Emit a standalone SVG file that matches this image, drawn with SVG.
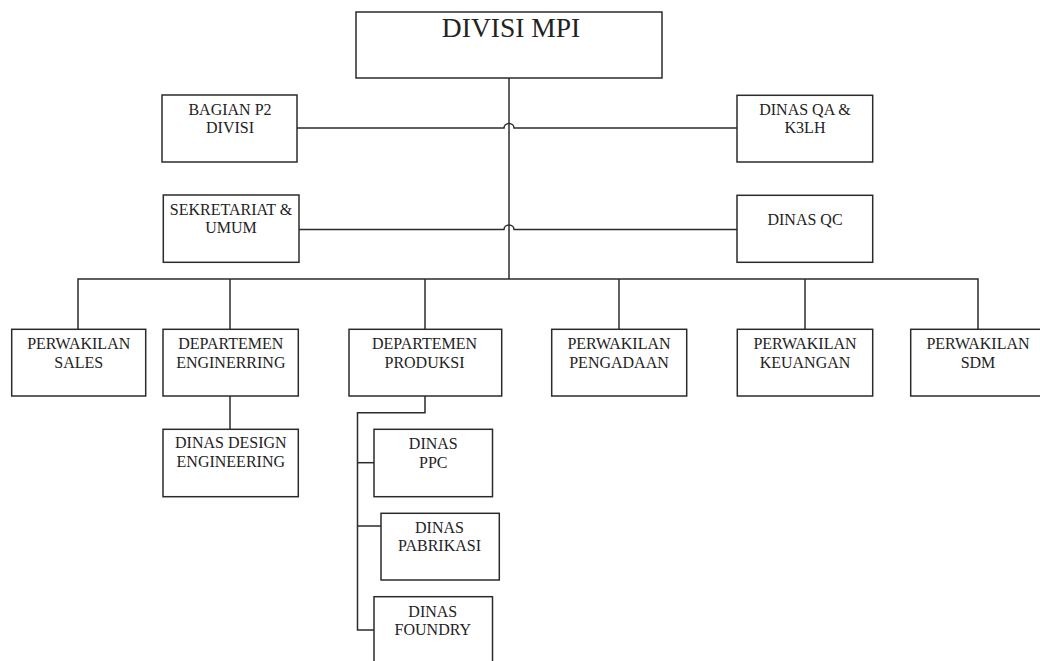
<svg xmlns="http://www.w3.org/2000/svg" width="1040" height="661" viewBox="0 0 1040 661">
<defs>
<marker id="none" markerWidth="1" markerHeight="1"/>
</defs>
<rect width="1040" height="661" fill="#fff"/>
<g id="connectors" fill="none" stroke="#2b2b2b" stroke-width="1.5">
<path d="M509,78 V279"/>
<path d="M297,128 H504 A5,4.5 0 0 1 514,128 H737"/>
<path d="M299,229.5 H504 A5,4.5 0 0 1 514,229.5 H737"/>
<path d="M78,329 V279 H978 V329"/>
<path d="M230,279 V329"/>
<path d="M425,279 V329"/>
<path d="M619,279 V329"/>
<path d="M805,279 V329"/>
<path d="M230,396 V429"/>
<path d="M425,396 V412.7 H357.5 V630 H374"/>
<path d="M357.5,462.7 H374"/>
<path d="M357.5,526 H381"/>
</g>
<g id="nodes" fill="#fff" stroke="#2b2b2b" stroke-width="1.5">
<rect id="box-divisi-mpi" x="356" y="12" width="306" height="66"/>
<rect id="box-bagian-p2" x="162" y="95" width="135" height="67"/>
<rect id="box-sekretariat" x="163.3" y="195" width="135.7" height="67.3"/>
<rect id="box-dinas-qa" x="737" y="95.3" width="135.7" height="66.7"/>
<rect id="box-dinas-qc" x="737" y="195.3" width="135.7" height="67"/>
<rect id="box-perwakilan-sales" x="11.7" y="329.3" width="134" height="66.7"/>
<rect id="box-dept-engineering" x="163" y="329.3" width="135.3" height="66.7"/>
<rect id="box-dinas-design" x="163" y="429.3" width="135.3" height="67.4"/>
<rect id="box-dept-produksi" x="349" y="329.3" width="152.7" height="66.7"/>
<rect id="box-dinas-ppc" x="374" y="429.3" width="118.5" height="67.4"/>
<rect id="box-dinas-pabrikasi" x="381" y="513.3" width="118.3" height="66.7"/>
<rect id="box-dinas-foundry" x="374" y="596.7" width="118.5" height="80"/>
<rect id="box-perwakilan-pengadaan" x="551.7" y="329.3" width="135" height="66.7"/>
<rect id="box-perwakilan-keuangan" x="737.3" y="329.3" width="135.4" height="66.7"/>
<rect id="box-perwakilan-sdm" x="910.7" y="329.3" width="135" height="66.7"/>
</g>
<text x="511" y="36.7" font-family="Liberation Serif" font-size="27.5" fill="#222" text-anchor="middle" style="font-family:'Liberation Serif',serif !important">DIVISI MPI</text>
<text x="230" y="115" font-family="Liberation Serif" font-size="16" fill="#222" text-anchor="middle" style="font-family:'Liberation Serif',serif !important">BAGIAN P2</text>
<text x="230" y="133.3" font-family="Liberation Serif" font-size="16" fill="#222" text-anchor="middle" style="font-family:'Liberation Serif',serif !important">DIVISI</text>
<text x="231" y="215" font-family="Liberation Serif" font-size="16" fill="#222" text-anchor="middle" style="font-family:'Liberation Serif',serif !important">SEKRETARIAT &amp;</text>
<text x="231" y="233.3" font-family="Liberation Serif" font-size="16" fill="#222" text-anchor="middle" style="font-family:'Liberation Serif',serif !important">UMUM</text>
<text x="805" y="115" font-family="Liberation Serif" font-size="16" fill="#222" text-anchor="middle" style="font-family:'Liberation Serif',serif !important">DINAS QA &amp;</text>
<text x="805" y="133.3" font-family="Liberation Serif" font-size="16" fill="#222" text-anchor="middle" style="font-family:'Liberation Serif',serif !important">K3LH</text>
<text x="805" y="225" font-family="Liberation Serif" font-size="16" fill="#222" text-anchor="middle" style="font-family:'Liberation Serif',serif !important">DINAS QC</text>
<text x="78.7" y="349.3" font-family="Liberation Serif" font-size="16" fill="#222" text-anchor="middle" style="font-family:'Liberation Serif',serif !important">PERWAKILAN</text>
<text x="78.7" y="367.7" font-family="Liberation Serif" font-size="16" fill="#222" text-anchor="middle" style="font-family:'Liberation Serif',serif !important">SALES</text>
<text x="230.8" y="349.3" font-family="Liberation Serif" font-size="16" fill="#222" text-anchor="middle" style="font-family:'Liberation Serif',serif !important">DEPARTEMEN</text>
<text x="230.8" y="367.7" font-family="Liberation Serif" font-size="16" fill="#222" text-anchor="middle" style="font-family:'Liberation Serif',serif !important">ENGINERRING</text>
<text x="230.8" y="448.3" font-family="Liberation Serif" font-size="16" fill="#222" text-anchor="middle" style="font-family:'Liberation Serif',serif !important">DINAS DESIGN</text>
<text x="230.8" y="466.7" font-family="Liberation Serif" font-size="16" fill="#222" text-anchor="middle" style="font-family:'Liberation Serif',serif !important">ENGINEERING</text>
<text x="424.5" y="349.3" font-family="Liberation Serif" font-size="16" fill="#222" text-anchor="middle" style="font-family:'Liberation Serif',serif !important">DEPARTEMEN</text>
<text x="424.5" y="367.7" font-family="Liberation Serif" font-size="16" fill="#222" text-anchor="middle" style="font-family:'Liberation Serif',serif !important">PRODUKSI</text>
<text x="433.3" y="449.3" font-family="Liberation Serif" font-size="16" fill="#222" text-anchor="middle" style="font-family:'Liberation Serif',serif !important">DINAS</text>
<text x="433.3" y="467.7" font-family="Liberation Serif" font-size="16" fill="#222" text-anchor="middle" style="font-family:'Liberation Serif',serif !important">PPC</text>
<text x="439.5" y="532.7" font-family="Liberation Serif" font-size="16" fill="#222" text-anchor="middle" style="font-family:'Liberation Serif',serif !important">DINAS</text>
<text x="439.5" y="551" font-family="Liberation Serif" font-size="16" fill="#222" text-anchor="middle" style="font-family:'Liberation Serif',serif !important">PABRIKASI</text>
<text x="432.8" y="616.7" font-family="Liberation Serif" font-size="16" fill="#222" text-anchor="middle" style="font-family:'Liberation Serif',serif !important">DINAS</text>
<text x="432.8" y="635" font-family="Liberation Serif" font-size="16" fill="#222" text-anchor="middle" style="font-family:'Liberation Serif',serif !important">FOUNDRY</text>
<text x="619" y="349.3" font-family="Liberation Serif" font-size="16" fill="#222" text-anchor="middle" style="font-family:'Liberation Serif',serif !important">PERWAKILAN</text>
<text x="619" y="367.7" font-family="Liberation Serif" font-size="16" fill="#222" text-anchor="middle" style="font-family:'Liberation Serif',serif !important">PENGADAAN</text>
<text x="805" y="349.3" font-family="Liberation Serif" font-size="16" fill="#222" text-anchor="middle" style="font-family:'Liberation Serif',serif !important">PERWAKILAN</text>
<text x="805" y="367.7" font-family="Liberation Serif" font-size="16" fill="#222" text-anchor="middle" style="font-family:'Liberation Serif',serif !important">KEUANGAN</text>
<text x="978" y="349.3" font-family="Liberation Serif" font-size="16" fill="#222" text-anchor="middle" style="font-family:'Liberation Serif',serif !important">PERWAKILAN</text>
<text x="978" y="367.7" font-family="Liberation Serif" font-size="16" fill="#222" text-anchor="middle" style="font-family:'Liberation Serif',serif !important">SDM</text>
</svg>
